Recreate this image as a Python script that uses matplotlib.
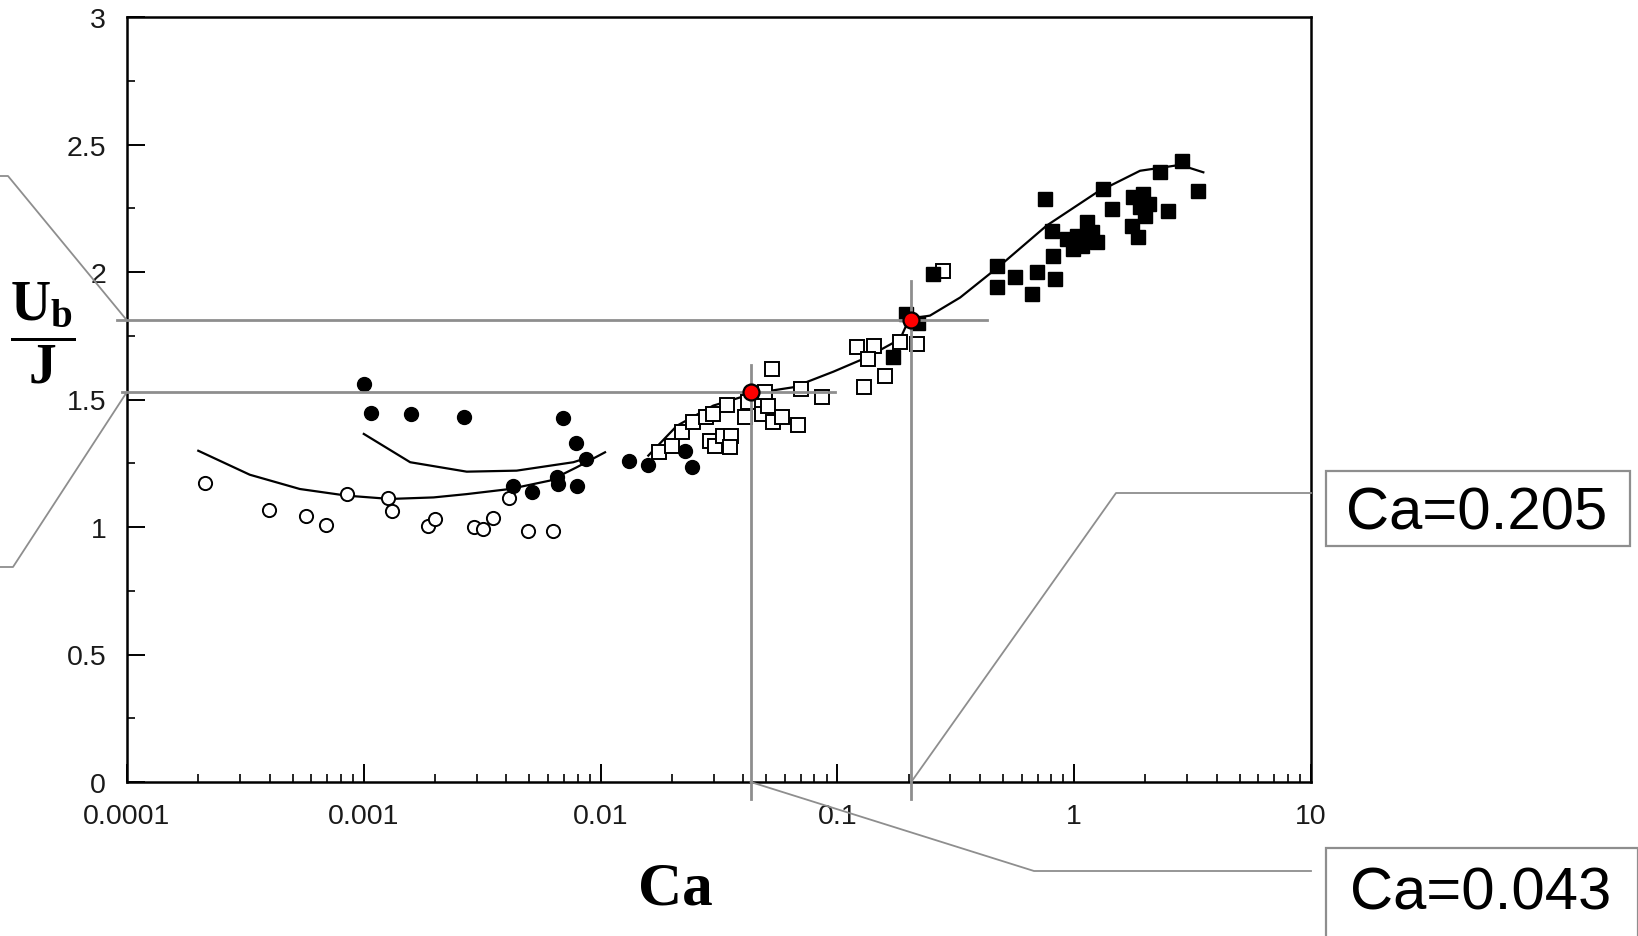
import matplotlib
matplotlib.use('Agg')
import matplotlib.pyplot as plt
from matplotlib import font_manager
from matplotlib.lines import Line2D
from matplotlib.patches import Rectangle
from matplotlib.ticker import FixedLocator, NullFormatter

# ---- data ----
open_circle_ca = [0.000213, 0.000398, 0.000570, 0.000692, 0.000847, 0.00127, 0.00132,
                  0.00187, 0.00199, 0.00292, 0.00320, 0.00350, 0.00412, 0.00492, 0.00631]
open_circle_ub = [1.173, 1.068, 1.044, 1.009, 1.129, 1.114, 1.061,
                  1.005, 1.031, 1.001, 0.994, 1.034, 1.112, 0.986, 0.986]

filled_circle_ca = [0.00100, 0.00107, 0.00158, 0.00266, 0.00692, 0.00785, 0.00865,
                    0.00428, 0.00512, 0.00653, 0.00660, 0.00797, 0.0132, 0.0159, 0.0227, 0.0244]
filled_circle_ub = [1.561, 1.447, 1.443, 1.430, 1.427, 1.329, 1.267,
                    1.160, 1.138, 1.195, 1.169, 1.162, 1.260, 1.244, 1.297, 1.234]

open_square_ca = [0.0177, 0.0200, 0.0220, 0.0246, 0.0279, 0.0299, 0.0290, 0.0304, 0.0330,
                  0.0357, 0.0352, 0.0341, 0.0407, 0.0421, 0.0479, 0.0511, 0.0495, 0.0528,
                  0.0533, 0.0582, 0.0684, 0.0700, 0.0859, 0.121, 0.143, 0.129, 0.135,
                  0.159, 0.184, 0.217, 0.280]
open_square_ub = [1.293, 1.319, 1.371, 1.411, 1.430, 1.443, 1.338, 1.319, 1.358,
                  1.358, 1.312, 1.478, 1.430, 1.489, 1.443, 1.476, 1.528, 1.620,
                  1.411, 1.430, 1.400, 1.541, 1.508, 1.705, 1.711, 1.548, 1.659,
                  1.593, 1.724, 1.718, 2.005]

filled_square_ca = [0.172, 0.195, 0.220, 0.254, 0.471, 0.471, 0.562, 0.662, 0.695, 0.829,
                    0.753, 0.804, 0.816, 0.929, 0.991, 1.076, 1.129, 1.185, 1.245, 1.11,
                    1.025, 1.327, 1.439, 1.777, 1.96, 2.06, 1.897, 1.750, 1.866, 1.99,
                    2.30, 2.50, 2.85, 3.34]
filled_square_ub = [1.665, 1.835, 1.800, 1.992, 2.025, 1.940, 1.979, 1.914, 1.999, 1.973,
                    2.286, 2.162, 2.064, 2.129, 2.090, 2.103, 2.195, 2.156, 2.117, 2.129,
                    2.142, 2.325, 2.247, 2.293, 2.306, 2.267, 2.254, 2.182, 2.136, 2.221,
                    2.391, 2.240, 2.436, 2.319]

curve_low_ca = [0.0002, 0.00033, 0.000537, 0.000847, 0.00129, 0.00197, 0.00272,
                0.00414, 0.00611, 0.00792, 0.01044]
curve_low_ub = [1.299, 1.205, 1.149, 1.123, 1.110, 1.116, 1.129, 1.149, 1.182, 1.234, 1.293]

curve_up_ca = [0.001, 0.00157, 0.00272, 0.00442, 0.00767, 0.0087]
curve_up_ub = [1.365, 1.254, 1.217, 1.221, 1.254, 1.27]

curve_main_ca = [0.0159, 0.0210, 0.0299, 0.0442, 0.0651, 0.0961, 0.133, 0.184, 0.201,
                 0.246, 0.330, 0.486, 0.765, 1.245, 1.897, 2.80, 3.51]
curve_main_ub = [1.280, 1.397, 1.476, 1.524, 1.548, 1.609, 1.665, 1.737, 1.816,
                 1.829, 1.900, 2.025, 2.182, 2.312, 2.397, 2.420, 2.391]

mark_ca = [0.043, 0.205]
mark_ub = [1.53, 1.81]
mark_labels = ['Ca=0.043', 'Ca=0.205']

x_ticks = [0.0001, 0.001, 0.01, 0.1, 1, 10]
x_tick_labels = ['0.0001', '0.001', '0.01', '0.1', '1', '10']
y_ticks = [0, 0.5, 1, 1.5, 2, 2.5, 3]
y_tick_labels = ['0', '0.5', '1', '1.5', '2', '2.5', '3']

# ---- figure ----
W, H = 1638, 937
GRAY = '#8e8e8e'

names = {f.name for f in font_manager.fontManager.ttflist}
tick_font = 'Liberation Sans Narrow' if 'Liberation Sans Narrow' in names else 'Liberation Sans'

plt.rcParams['mathtext.fontset'] = 'custom'
plt.rcParams['mathtext.rm'] = 'Liberation Serif'
plt.rcParams['mathtext.bf'] = 'Liberation Serif:bold'
plt.rcParams['mathtext.it'] = 'Liberation Serif:italic'

fig = plt.figure(figsize=(W / 100, H / 100), dpi=100)
ax = fig.add_axes([127 / W, 1 - 783 / H, (1311 - 127) / W, (783 - 18) / H])

ax.set_xscale('log')
ax.set_xlim(1e-4, 10)
ax.set_ylim(0, 3)

ax.plot(curve_low_ca, curve_low_ub, color='black', lw=1.6, zorder=3)
ax.plot(curve_up_ca, curve_up_ub, color='black', lw=1.6, zorder=3)
ax.plot(curve_main_ca, curve_main_ub, color='black', lw=1.6, zorder=3)

ax.plot(open_circle_ca, open_circle_ub, 'o', ms=9.5, mfc='white', mec='black', mew=1.4, zorder=4)
ax.plot(filled_circle_ca, filled_circle_ub, 'o', ms=10, color='black', zorder=4)
ax.plot(open_square_ca, open_square_ub, 's', ms=9.5, mfc='white', mec='black', mew=1.4, zorder=4)
ax.plot(filled_square_ca, filled_square_ub, 's', ms=10, color='black', zorder=4)

# crosshair lines through the two marked points
ax.plot([9.1e-5, 0.43], [mark_ub[1]] * 2, color=GRAY, lw=2, clip_on=False, zorder=5)
ax.plot([9.5e-5, 0.098], [mark_ub[0]] * 2, color=GRAY, lw=2, clip_on=False, zorder=5)
ax.plot([mark_ca[0]] * 2, [-0.067, 1.635], color=GRAY, lw=2, clip_on=False, zorder=5)
ax.plot([mark_ca[1]] * 2, [-0.067, 1.965], color=GRAY, lw=2, clip_on=False, zorder=5)
ax.plot(mark_ca, mark_ub, 'o', ms=11.5, mfc='red', mec='black', mew=1.6, zorder=6)

# axes styling
for s in ax.spines.values():
    s.set_linewidth(1.8)
ax.xaxis.set_major_locator(FixedLocator(x_ticks))
ax.xaxis.set_minor_locator(FixedLocator([m * 10.0 ** e for e in range(-4, 1) for m in range(2, 10)]))
ax.xaxis.set_minor_formatter(NullFormatter())
ax.set_xticklabels(x_tick_labels)
ax.set_yticks(y_ticks)
ax.set_yticklabels(y_tick_labels)
ax.yaxis.set_minor_locator(FixedLocator([0.25, 0.75, 1.25, 1.75, 2.25, 2.75]))
ax.tick_params(which='major', direction='in', length=13, width=1.4, top=False, right=False,
               colors='black', labelcolor='#1a1a1a', labelsize=20.5)
ax.tick_params(which='minor', direction='in', length=6, width=1.2, top=False, right=False)
ax.tick_params(axis='x', which='major', pad=15)
ax.tick_params(axis='y', which='major', pad=15)
for lab in ax.get_xticklabels() + ax.get_yticklabels():
    lab.set_fontfamily(tick_font)

fig.text(675 / W, 1 - 890 / H, 'Ca', ha='center', va='center', fontsize=44,
         family='Liberation Serif', fontweight='bold')
fig.text(43 / W, 1 - 333 / H, r'$\dfrac{\mathbf{U_b}}{\mathbf{J}}$', ha='center', va='center',
         fontsize=40)


# ---- callouts ----
def px(x, y):
    return x / W, 1 - y / H


def data_fig(x, y):
    return fig.transFigure.inverted().transform(ax.transData.transform((x, y)))


leaders = [
    [data_fig(mark_ca[1], 0), px(1116, 494), px(1311, 494)],
    [data_fig(mark_ca[0], 0), px(1034, 872), px(1311, 872)],
    [px(0, 177), px(8, 177), data_fig(1e-4, mark_ub[1])],
    [data_fig(1e-4, mark_ub[0]), px(13, 568), px(0, 568)],
]
for pts in leaders:
    xs = [p[0] for p in pts]
    ys = [p[1] for p in pts]
    fig.add_artist(Line2D(xs, ys, transform=fig.transFigure, color=GRAY, lw=1.3))

# label boxes
boxes = [(1326, 849, 312, 100, 1481, 910), (1326, 472, 304, 75, 1477, 530)]
for label, (bx, by, bw, bh, tx, ty) in zip(mark_labels, boxes):
    fig.add_artist(Rectangle(px(bx, by + bh), bw / W, bh / H, transform=fig.transFigure,
                             fill=False, edgecolor=GRAY, lw=1.6))
    fig.text(*px(tx, ty), label, ha='center', va='baseline', fontsize=43,
             family='Liberation Sans', color='black')

fig.savefig('out.png', dpi=100)
